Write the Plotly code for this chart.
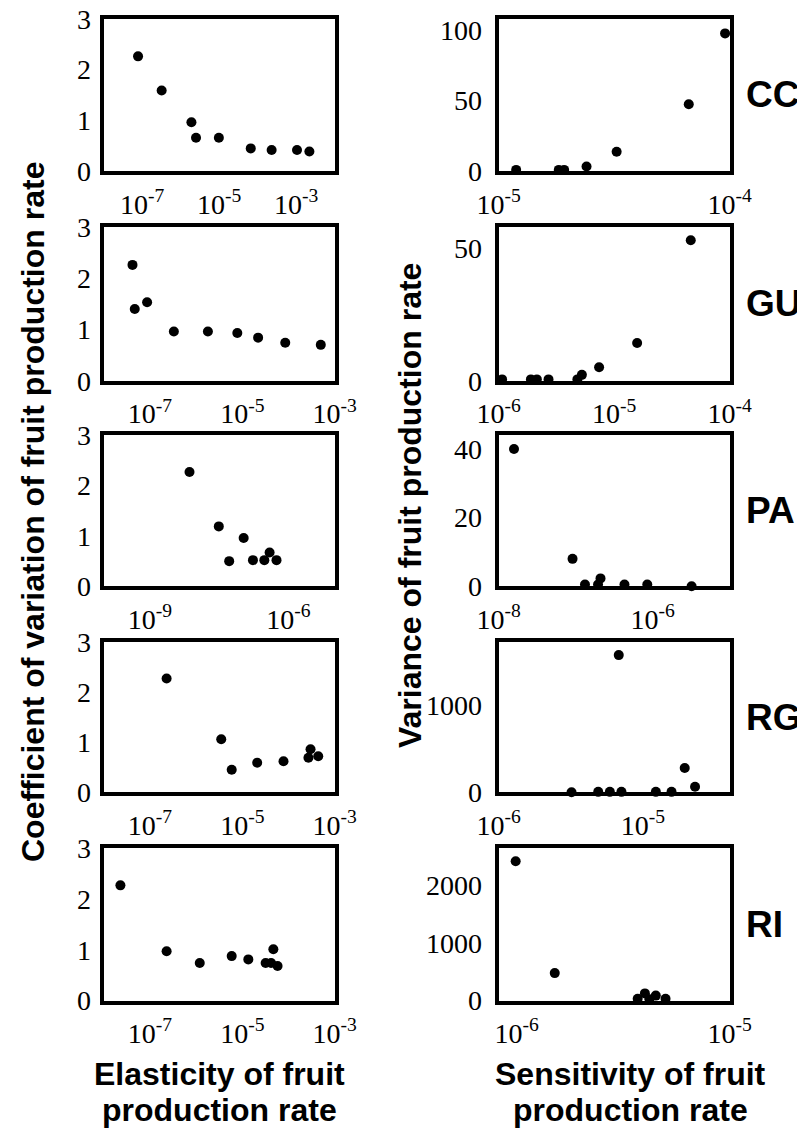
import plotly.graph_objects as go

# page body has an 8px margin, so the figure is 8px smaller than the window
OFF = 8
W, H = 805 - OFF, 1130 - OFF
LW = 4  # frame line width; plotly draws it just outside the domain

species = ["CC", "GU", "PA", "RG", "RI"]

# ---- Elasticity (left column) vs coefficient of variation ----
cc_elast = [7.8e-8, 3.2e-7, 1.9e-6, 2.5e-6, 9.8e-6, 6.6e-5, 2.3e-4, 1.05e-3, 2.2e-3]
cc_cv = [2.26, 1.59, 0.965, 0.66, 0.66, 0.45, 0.42, 0.42, 0.39]
gu_elast = [4.2e-8, 4.7e-8, 8.7e-8, 3.3e-7, 1.8e-6, 7.8e-6, 2.2e-5, 8.5e-5, 5.0e-4]
gu_cv = [2.26, 1.40, 1.53, 0.96, 0.96, 0.93, 0.84, 0.74, 0.70]
pa_elast = [7.2e-9, 3.1e-8, 5.2e-8, 1.07e-7, 1.7e-7, 3.0e-7, 3.9e-7, 5.5e-7]
pa_cv = [2.27, 1.19, 0.50, 0.96, 0.52, 0.52, 0.67, 0.52]
rg_elast = [2.3e-7, 3.5e-6, 5.9e-6, 2.1e-5, 7.8e-5, 2.7e-4, 3.0e-4, 4.4e-4]
rg_cv = [2.27, 1.06, 0.45, 0.59, 0.62, 0.69, 0.86, 0.72]
ri_elast = [2.3e-8, 2.3e-7, 1.2e-6, 5.9e-6, 1.35e-5, 3.2e-5, 4.2e-5, 4.7e-5, 5.8e-5]
ri_cv = [2.27, 0.97, 0.74, 0.875, 0.81, 0.74, 0.74, 1.01, 0.68]

# ---- Sensitivity (right column) vs variance ----
cc_sens = [1.19e-5, 1.82e-5, 1.92e-5, 2.4e-5, 3.24e-5, 6.65e-5, 9.55e-5]
cc_var = [1.0, 1.0, 1.0, 3.4, 13.8, 47.5, 97.6]
gu_sens = [1.07e-6, 1.9e-6, 2.14e-6, 2.7e-6, 4.8e-6, 5.25e-6, 7.4e-6, 1.58e-5, 4.6e-5]
gu_var = [0.5, 0.5, 0.5, 0.5, 0.5, 2.2, 5.1, 14.2, 53.0]
pa_sens = [1.58e-8, 9.1e-8, 1.32e-7, 1.95e-7, 2.1e-7, 4.3e-7, 8.5e-7, 3.2e-6]
pa_var = [40.0, 8.0, 0.5, 0.5, 2.3, 0.5, 0.5, 0.0]
rg_sens = [3.2e-6, 4.9e-6, 5.9e-6, 7.1e-6, 1.23e-5, 1.58e-5, 1.95e-5, 2.3e-5, 6.8e-6]
rg_var = [0.0, 5.0, 5.0, 5.0, 5.0, 5.0, 280.0, 63.0, 1579.0]
ri_sens = [9.9e-7, 1.51e-6, 3.7e-6, 4.0e-6, 4.2e-6, 4.5e-6, 5.0e-6]
ri_var = [2424.0, 477.0, 30.0, 124.0, 20.0, 85.0, 30.0]

left_x = [cc_elast, gu_elast, pa_elast, rg_elast, ri_elast]
left_y = [cc_cv, gu_cv, pa_cv, rg_cv, ri_cv]
right_x = [cc_sens, gu_sens, pa_sens, rg_sens, ri_sens]
right_y = [cc_var, gu_var, pa_var, rg_var, ri_var]

# axis ranges (log10 for x)
left_xrange = [[-8, -2], [-8, -3], [-10, -5], [-8, -3], [-8, -3]]
left_xticks = [[-7, -5, -3], [-7, -5, -3], [-9, -6], [-7, -5, -3], [-7, -5, -3]]
right_xrange = [[-5, -4], [-6, -4], [-8, -5], [-6, -4.398], [-6.084, -5]]
right_xticks = [[-5, -4], [-6, -5, -4], [-8, -6], [-6, -5], [-6, -5]]
right_yrange = [[0, 108], [0, 58], [0, 44], [0, 1730], [0, 2650]]
right_yticks = [[0, 50, 100], [0, 50], [0, 20, 40], [0, 1000], [0, 1000, 2000]]
left_yticks = [0, 1, 2, 3]

# layout geometry in window pixels (centre of frame lines)
rows_px = [(16.7, 173.3), (225.0, 382.7), (433.3, 588.3), (640.0, 794.3), (846.3, 1002.5)]
left_px = (101.7, 336.7)
right_px = (496.7, 731.7)

tick_font = dict(family="Liberation Serif", size=28, color="black")
title_font = dict(family="Liberation Sans", size=32, color="black")

fig = go.Figure()
layout = dict(
    width=W, height=H, margin=dict(l=0, r=0, t=0, b=0, autoexpand=False),
    paper_bgcolor="white", plot_bgcolor="white", showlegend=False,
)


def px_x(v):
    return (v - OFF) / W


def px_y(v):
    return 1 - (v - OFF) / H


def xdom(p):
    return [px_x(p[0] + LW / 2), px_x(p[1] - LW / 2)]


def ydom(p):
    return [px_y(p[1] - LW / 2), px_y(p[0] + LW / 2)]


def tick_text(vals):
    return ["10<sup>%d</sup>" % v for v in vals]


n = 0
annotations = []
for i, sp in enumerate(species):
    for col in range(2):
        n += 1
        sfx = "" if n == 1 else str(n)
        if col == 0:
            xs, ys = left_x[i], left_y[i]
            xr, xt = left_xrange[i], left_xticks[i]
            yr, yt = [0, 3], left_yticks
            xd = xdom(left_px)
            ystand = 3
        else:
            xs, ys = right_x[i], right_y[i]
            xr, xt = right_xrange[i], right_xticks[i]
            yr, yt = right_yrange[i], right_yticks[i]
            xd = xdom(right_px)
            ystand = 7
        fig.add_trace(go.Scatter(
            x=xs, y=ys, mode="markers",
            marker=dict(color="black", size=10),
            xaxis="x" + sfx, yaxis="y" + sfx, cliponaxis=False,
            hoverinfo="x+y",
        ))
        layout["xaxis" + sfx] = dict(
            type="log", range=xr, domain=xd, anchor="y" + sfx,
            tickmode="array", tickvals=[10 ** v for v in xt], ticktext=tick_text(xt),
            showgrid=False, zeroline=False, showline=True, linecolor="black",
            linewidth=LW, mirror=True, ticks="", tickfont=tick_font,
            ticklabelstandoff=5, layer="below traces", automargin=False,
            ticklabeloverflow="allow",
        )
        layout["yaxis" + sfx] = dict(
            range=yr, domain=ydom(rows_px[i]), anchor="x" + sfx,
            tickmode="array", tickvals=yt, ticktext=[str(v) for v in yt],
            showgrid=False, zeroline=False, showline=True, linecolor="black",
            linewidth=LW, mirror=True, ticks="", tickfont=tick_font,
            ticklabelstandoff=ystand, layer="below traces", automargin=False,
            ticklabeloverflow="allow",
        )
    cy = (rows_px[i][0] + rows_px[i][1]) / 2
    annotations.append(dict(
        text="<b>%s</b>" % sp, x=px_x(744), y=px_y(cy), xref="paper", yref="paper",
        xanchor="left", yanchor="middle", showarrow=False,
        font=dict(family="Liberation Sans", size=37, color="black"),
    ))

# axis titles
annotations += [
    dict(text="<b>Coefficient of variation of fruit production rate</b>",
         x=px_x(33), y=px_y(512), xref="paper", yref="paper", textangle=-90,
         xanchor="center", yanchor="middle", showarrow=False, font=title_font),
    dict(text="<b>Variance of fruit production rate</b>",
         x=px_x(410), y=px_y(505), xref="paper", yref="paper", textangle=-90,
         xanchor="center", yanchor="middle", showarrow=False, font=title_font),
    dict(text="<b>Elasticity of fruit</b>", x=px_x(219.5), y=px_y(1074),
         xref="paper", yref="paper", xanchor="center", yanchor="middle",
         showarrow=False, font=title_font),
    dict(text="<b>production rate</b>", x=px_x(219.5), y=px_y(1110),
         xref="paper", yref="paper", xanchor="center", yanchor="middle",
         showarrow=False, font=title_font),
    dict(text="<b>Sensitivity of fruit</b>", x=px_x(630), y=px_y(1074),
         xref="paper", yref="paper", xanchor="center", yanchor="middle",
         showarrow=False, font=title_font),
    dict(text="<b>production rate</b>", x=px_x(630), y=px_y(1110),
         xref="paper", yref="paper", xanchor="center", yanchor="middle",
         showarrow=False, font=title_font),
]
layout["annotations"] = annotations
fig.update_layout(**layout)
fig.write_html("out.html")
